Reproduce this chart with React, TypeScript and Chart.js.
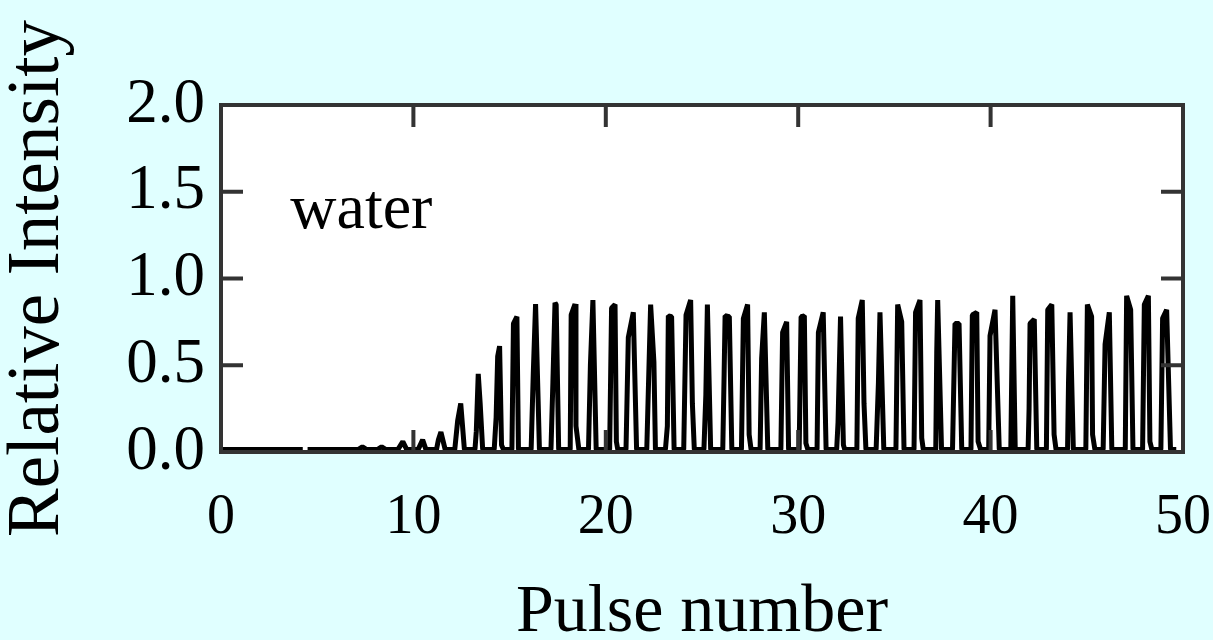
import React, { useEffect, useRef } from 'react';
import { Chart, registerables } from 'chart.js';

Chart.register(...registerables);

// baseline level of the trace
const B = 0.015;

// sample positions (pulse number), one row per pulse
const pulseX: number[][] = [
  [0, 4.25, 4.38, 4.5],
  [7.15, 7.35, 7.55],
  [8.15, 8.35, 8.55],
  [9.2, 9.45, 9.65],
  [10.25, 10.48, 10.65],
  [11.2, 11.3, 11.43, 11.65],
  [12.15, 12.3, 12.46, 12.65],
  [13.2, 13.27, 13.37, 13.47, 13.6],
  [14.2, 14.3, 14.38, 14.48, 14.58, 14.68],
  [15.12, 15.2, 15.38, 15.46],
  [16.12, 16.23, 16.35, 16.55],
  [17.15, 17.25, 17.36, 17.42, 17.55],
  [18.15, 18.2, 18.4, 18.45, 18.6],
  [19.1, 19.2, 19.33, 19.5],
  [20.2, 20.3, 20.48, 20.55, 20.62],
  [21.05, 21.17, 21.43, 21.6],
  [22.13, 22.33, 22.5, 22.58],
  [23.1, 23.2, 23.25, 23.42, 23.55],
  [24.05, 24.17, 24.41, 24.5, 24.6],
  [25.1, 25.2, 25.28, 25.45],
  [26.08, 26.15, 26.2, 26.42, 26.55],
  [27.05, 27.15, 27.37, 27.45, 27.55],
  [28.02, 28.1, 28.24, 28.42],
  [29.1, 29.19, 29.4, 29.5],
  [30.05, 30.15, 30.32, 30.4, 30.5],
  [30.98, 31.05, 31.3, 31.45],
  [32.0, 32.07, 32.2, 32.35, 32.42],
  [33.05, 33.12, 33.33, 33.42, 33.52],
  [34.05, 34.17, 34.25, 34.45],
  [35.08, 35.17, 35.38, 35.5],
  [36.02, 36.1, 36.33, 36.42, 36.5],
  [37.15, 37.2, 37.25, 37.45],
  [38.02, 38.15, 38.36, 38.5],
  [38.98, 39.05, 39.28, 39.35, 39.48],
  [39.9, 39.97, 40.23, 40.45],
  [41.05, 41.15, 41.28],
  [41.95, 42.0, 42.05, 42.27, 42.4],
  [42.9, 42.97, 43.18, 43.3, 43.4],
  [44.0, 44.05, 44.13, 44.3],
  [44.95, 45.03, 45.25, 45.3, 45.42],
  [45.85, 45.95, 46.17, 46.3],
  [47.0, 47.07, 47.28, 47.4],
  [47.9, 47.99, 48.2, 48.28, 48.38],
  [48.85, 48.94, 49.15, 49.35],
  [49.65],
];

// relative intensity at those samples
const pulseY: (number | null)[][] = [
  [B, B, null, B],
  [B, 0.03, B],
  [B, 0.03, B],
  [B, 0.06, B],
  [B, 0.07, B],
  [B, 0.07, 0.115, B],
  [B, 0.18, 0.28, B],
  [B, 0.12, 0.45, 0.28, B],
  [B, 0.2, 0.55, 0.61, 0.04, B],
  [B, 0.74, 0.78, B],
  [B, 0.45, 0.853, B],
  [B, 0.4, 0.86, 0.85, B],
  [B, 0.79, 0.853, 0.15, B],
  [B, 0.5, 0.876, B],
  [B, 0.83, 0.85, 0.06, B],
  [B, 0.66, 0.805, B],
  [B, 0.85, 0.52, B],
  [B, 0.15, 0.785, 0.78, B],
  [B, 0.79, 0.876, 0.28, B],
  [B, 0.33, 0.85, B],
  [B, 0.45, 0.785, 0.78, B],
  [B, 0.77, 0.85, 0.1, B],
  [B, 0.54, 0.805, B],
  [B, 0.69, 0.75, B],
  [B, 0.78, 0.785, 0.05, B],
  [B, 0.69, 0.805, B],
  [B, 0.17, 0.78, 0.04, B],
  [B, 0.77, 0.876, 0.28, B],
  [B, 0.4, 0.805, B],
  [B, 0.85, 0.75, B],
  [B, 0.805, 0.876, 0.08, B],
  [B, 0.57, 0.876, B],
  [B, 0.74, 0.74, B],
  [B, 0.79, 0.805, 0.06, B],
  [B, 0.67, 0.82, B],
  [B, 0.9, B],
  [B, 0.25, 0.74, 0.765, B],
  [B, 0.82, 0.85, 0.1, B],
  [B, 0.4, 0.805, B],
  [B, 0.85, 0.78, 0.1, B],
  [B, 0.62, 0.805, B],
  [B, 0.9, 0.82, B],
  [B, 0.85, 0.9, 0.06, B],
  [B, 0.77, 0.82, B],
  [B],
];

const xTicks = [0, 10, 20, 30, 40, 50];
const yTicks = [0, 0.5, 1.0, 1.5, 2.0];
const sampleLabel = 'water';
const sampleLabelPos = [3.6, 1.29];
const xTitle = 'Pulse number';
const yTitle = 'Relative Intensity';

const SERIF = '"Liberation Serif", "Times New Roman", serif';

const framePlugin = {
  id: 'framePlugin',
  beforeDraw(chart: any) {
    const { ctx, chartArea } = chart;
    ctx.save();
    ctx.fillStyle = '#e0ffff';
    ctx.fillRect(0, 0, chart.width, chart.height);
    ctx.fillStyle = '#ffffff';
    ctx.fillRect(chartArea.left, chartArea.top, chartArea.right - chartArea.left, chartArea.bottom - chartArea.top);
    ctx.restore();
  },
  afterDatasetsDraw(chart: any) {
    const { ctx, chartArea, scales } = chart;
    const { left, right, top, bottom } = chartArea;
    const xs = scales.x;
    const ys = scales.y;
    const len = 22;
    ctx.save();
    ctx.strokeStyle = '#333333';
    ctx.lineWidth = 4;
    ctx.lineCap = 'butt';
    ctx.beginPath();
    for (const v of xTicks) {
      const px = xs.getPixelForValue(v);
      ctx.moveTo(px, top);
      ctx.lineTo(px, top + len);
      ctx.moveTo(px, bottom);
      ctx.lineTo(px, bottom - len);
    }
    for (const v of yTicks) {
      const py = ys.getPixelForValue(v);
      ctx.moveTo(left, py);
      ctx.lineTo(left + len, py);
      ctx.moveTo(right, py);
      ctx.lineTo(right - len, py);
    }
    ctx.stroke();
    ctx.strokeRect(left, top, right - left, bottom - top);
    ctx.fillStyle = '#000000';
    ctx.font = `64px ${SERIF}`;
    ctx.textAlign = 'left';
    ctx.textBaseline = 'alphabetic';
    ctx.fillText(sampleLabel, xs.getPixelForValue(sampleLabelPos[0]), ys.getPixelForValue(sampleLabelPos[1]));
    ctx.restore();
  },
};

export default function App() {
  const canvasRef = useRef<HTMLCanvasElement | null>(null);

  useEffect(() => {
    document.body.style.margin = '0';
    document.body.style.background = '#e0ffff';
    const canvas = canvasRef.current;
    if (!canvas) return;
    const points: { x: number; y: number | null }[] = [];
    pulseX.forEach((row, r) => {
      row.forEach((x, i) => points.push({ x, y: pulseY[r][i] }));
    });

    const chart = new Chart(canvas, {
      type: 'line',
      data: {
        datasets: [
          {
            data: points as any,
            borderColor: '#000000',
            borderWidth: 5,
            borderJoinStyle: 'bevel',
            pointRadius: 0,
            tension: 0,
            fill: false,
            spanGaps: false,
          },
        ],
      },
      options: {
        responsive: false,
        animation: false,
        parsing: false as any,
        layout: { padding: { left: 0, top: 105, right: 30, bottom: 0 } },
        plugins: { legend: { display: false }, tooltip: { enabled: false } },
        scales: {
          x: {
            type: 'linear',
            position: 'bottom',
            min: 0,
            max: 50,
            afterBuildTicks: (scale: any) => {
              scale.ticks = xTicks.map((v) => ({ value: v }));
            },
            afterFit: (scale: any) => {
              scale.height = 188;
              scale.paddingLeft = 0;
              scale.paddingRight = 0;
            },
            grid: { display: false, drawTicks: false },
            border: { display: false },
            ticks: {
              color: '#000000',
              padding: 33,
              maxRotation: 0,
              autoSkip: false,
              font: { family: SERIF, size: 56, lineHeight: 1.2 },
              callback: (v: any) => String(v),
            },
            title: {
              display: true,
              text: xTitle,
              color: '#000000',
              font: { family: SERIF, size: 68, lineHeight: 0.8 },
              padding: 0,
            },
          },
          y: {
            type: 'linear',
            position: 'left',
            min: 0,
            max: 2,
            afterBuildTicks: (scale: any) => {
              scale.ticks = yTicks.map((v) => ({ value: v }));
            },
            afterFit: (scale: any) => {
              scale.width = 221;
              scale.paddingTop = 0;
              scale.paddingBottom = 0;
            },
            grid: { display: false, drawTicks: false },
            border: { display: false },
            ticks: {
              color: '#000000',
              padding: 16,
              autoSkip: false,
              font: { family: SERIF, size: 63, lineHeight: 1.2 },
              callback: (v: any) => Number(v).toFixed(1),
            },
            title: {
              display: true,
              text: yTitle,
              color: '#000000',
              font: { family: SERIF, size: 73, lineHeight: 1 },
              padding: { top: 2, bottom: 0 },
            },
          },
        },
      },
      plugins: [framePlugin],
    });

    return () => chart.destroy();
  }, []);

  return (
    <div style={{ width: 1213, height: 640, background: '#e0ffff' }}>
      <canvas ref={canvasRef} width={1213} height={640} style={{ display: 'block' }} />
    </div>
  );
}
